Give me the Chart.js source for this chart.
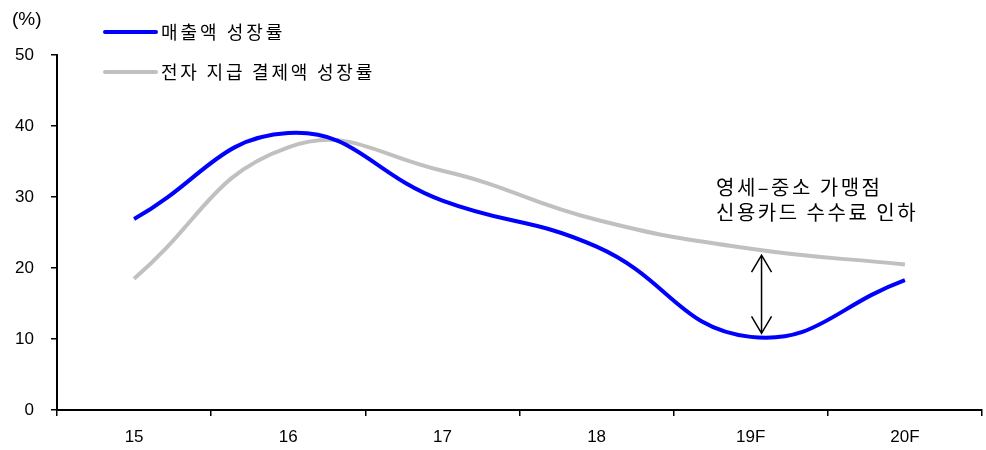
<!DOCTYPE html>
<html>
<head>
<meta charset="utf-8">
<script src="https://cdn.jsdelivr.net/npm/chart.js@4/dist/chart.umd.min.js"></script>
<style>
  html, body { margin: 0; padding: 0; background: #fff; }
  #wrap { width: 986px; height: 450px; position: relative; }
</style>
</head>
<body>
<div id="wrap"><canvas id="growthChart"></canvas></div>
<script>
// 연도 (F = 전망)
var years = ['15', '16', '17', '18', '19F', '20F'];
// 매출액 성장률 (%)
var salesGrowth = [26.9, 39.0, 29.5, 23.0, 10.3, 18.3];
// 전자 지급 결제액 성장률 (%)
var paymentGrowth = [18.5, 37.0, 33.7, 26.8, 22.7, 20.5];
var yTicks = [0, 10, 20, 30, 40, 50];
var noteLines = ['영세\u2013중소 가맹점', '신용카드 수수료 인하'];

var krFont = '"Noto Sans CJK KR", "Noto Sans", sans-serif';
var numFont = '"Liberation Sans", Arial, sans-serif';

// legend, unit label, arrow + note
var extras = {
    id: 'extras',
    afterDraw: function(chart) {
        var ctx = chart.ctx;
        var xs = chart.scales.x, ys = chart.scales.y;
        ctx.save();

        ctx.fillStyle = '#000';
        ctx.font = '19px ' + numFont;
        ctx.textBaseline = 'middle';
        ctx.textAlign = 'left';
        ctx.fillText('(%)', 12, 20);

        // legend, stacked
        ctx.font = '18px ' + krFont;
        chart.data.datasets.forEach(function(ds, i) {
            var y = 32 + i * 40;
            ctx.strokeStyle = ds.borderColor;
            ctx.lineWidth = 4;
            ctx.lineCap = 'round';
            ctx.beginPath();
            ctx.moveTo(105, y);
            ctx.lineTo(156, y);
            ctx.stroke();
            ctx.fillStyle = '#000';
            ctx.letterSpacing = i === 0 ? '3px' : '2.8px';
            ctx.fillText(ds.label, 161, y);
        });

        // double arrow at 19F
        var ax = xs.getPixelForValue(4.07);
        var top = ys.getPixelForValue(21.8);
        var bot = ys.getPixelForValue(10.8);
        ctx.strokeStyle = '#000';
        ctx.lineWidth = 1.5;
        ctx.lineCap = 'butt';
        ctx.beginPath();
        ctx.moveTo(ax, top);
        ctx.lineTo(ax, bot);
        ctx.moveTo(ax - 10, top + 17);
        ctx.lineTo(ax, top);
        ctx.lineTo(ax + 10, top + 17);
        ctx.moveTo(ax - 10, bot - 17);
        ctx.lineTo(ax, bot);
        ctx.lineTo(ax + 10, bot - 17);
        ctx.stroke();

        ctx.font = '20px ' + krFont;
        ctx.letterSpacing = '2.5px';
        ctx.fillStyle = '#000';
        ctx.fillText(noteLines[0], 716, 187);
        ctx.fillText(noteLines[1], 716, 212);
        ctx.restore();
    }
};

new Chart(document.getElementById('growthChart'), {
    type: 'line',
    data: {
        labels: years,
        datasets: [{
            label: '매출액 성장률',
            data: salesGrowth,
            borderColor: '#0000ff',
            borderWidth: 4,
            pointRadius: 0,
            tension: 0.45
        }, {
            label: '전자 지급 결제액 성장률',
            data: paymentGrowth,
            borderColor: '#c0c0c0',
            borderWidth: 4,
            pointRadius: 0,
            tension: 0.45
        }]
    },
    options: {
        responsive: true,
        maintainAspectRatio: false,
        animation: false,
        events: [],
        layout: { padding: { top: 55, right: 4, left: 0, bottom: 0 } },
        plugins: {
            legend: { display: false },
            tooltip: { enabled: false }
        },
        scales: {
            x: {
                offset: true,
                grid: { offset: true, drawOnChartArea: false, drawTicks: true, tickLength: 6, color: '#000', lineWidth: 1.5 },
                border: { color: '#000', width: 2 },
                ticks: { color: '#000', font: { family: numFont, size: 17 }, padding: 11 },
                afterFit: function(s) { s.height = 40; }
            },
            y: {
                min: 0,
                max: 50,
                afterBuildTicks: function(s) { s.ticks = yTicks.map(function(v) { return { value: v }; }); },
                grid: { drawOnChartArea: false, drawTicks: true, tickLength: 6, color: '#000', lineWidth: 1.5 },
                border: { color: '#000', width: 2 },
                ticks: { color: '#000', font: { family: numFont, size: 17 }, padding: 17 },
                afterFit: function(s) { s.width = 57; }
            }
        }
    },
    plugins: [extras]
});
</script>
</body>
</html>
